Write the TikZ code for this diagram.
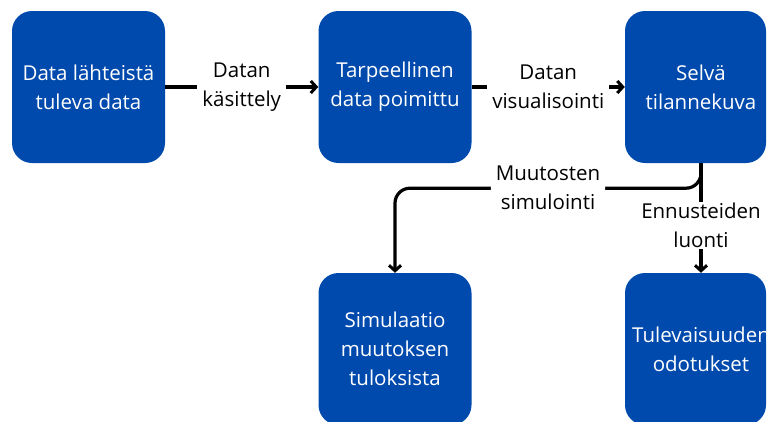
\documentclass[tikz,border=0pt]{standalone}
\usepackage{fontspec}
\setmainfont{Open Sans}
\usetikzlibrary{arrows.meta}
\definecolor{boxblue}{HTML}{004AAD}
\begin{document}
\begin{tikzpicture}[x=1pt,y=-1pt,
  txt/.style={font=\fontsize{20.5}{29}\selectfont, align=center},
  box/.style={fill=boxblue, rounded corners=20pt, minimum width=153pt, minimum height=152pt, inner sep=0pt, text=white, txt},
  boxtext/.style={text=white, txt, inner sep=0pt},
  lbl/.style={fill=white, inner xsep=5pt, inner ysep=1pt, text=black, txt},
  conn/.style={line width=3.2pt, -{Straight Barb[length=5.5pt,width=12pt,line width=3pt]}}
]
\useasboundingbox (0,0) rectangle (769,421);
\clip (0,0) rectangle (769,421);

\node[box] (b1) at (88.5,87) {Data lähteistä\\tuleva data};
\node[box] (b2) at (395,87) {Tarpeellinen\\data poimittu};
\node[box, minimum width=141pt] (b3) at (695.5,87) {};
\node[boxtext] (t3) at (701,87) {Selvä\\tilannekuva};
\node[box] (b4) at (395,349) {Simulaatio\\muutoksen\\tuloksista};
\node[box, minimum width=141pt] (b5) at (695.5,349) {};
\node[boxtext] (t5) at (701,349) {Tulevaisuuden\\odotukset};

\draw[conn] (b1) -- node[lbl] {Datan\\käsittely} (b2);
\draw[conn] (b2) -- node[lbl] {Datan\\visualisointi} (b3);
\draw[conn] (t3 |- b3.south) -- node[lbl, pos=0.57] {Ennusteiden\\luonti} (t5 |- b5.north);
\draw[conn, rounded corners=15pt] (t3 |- b3.south) -- ++(0,25) coordinate (jn)
  -| node[lbl, pos=0.25] {Muutosten\\simulointi} (b4.north);
\end{tikzpicture}
\end{document}
